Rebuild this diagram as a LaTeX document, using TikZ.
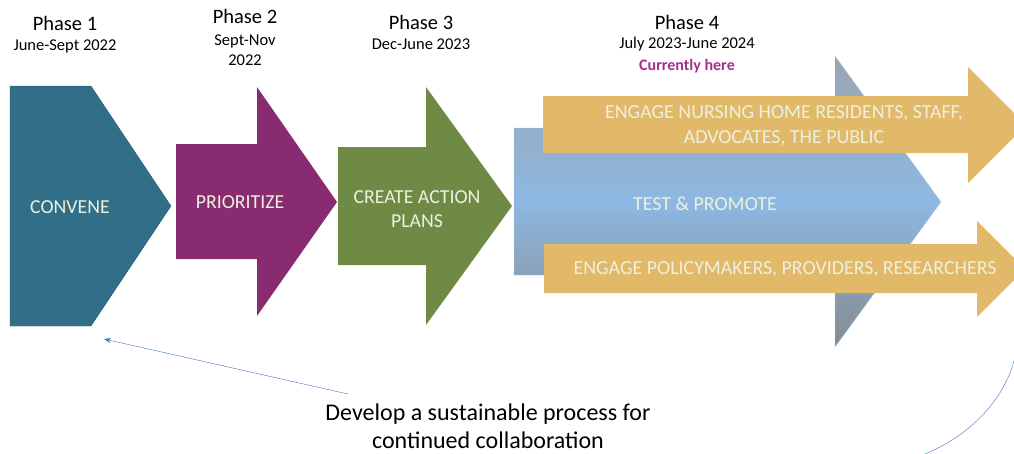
\documentclass[tikz,border=0pt]{standalone}
\usepackage{fontspec}
\setmainfont{Carlito}
\usetikzlibrary{arrows.meta}
\definecolor{convenecol}{HTML}{316F88}
\definecolor{conveneedge}{HTML}{1D5F76}
\definecolor{prioritycol}{HTML}{892B70}
\definecolor{plancol}{HTML}{6E8A45}
\definecolor{engagecol}{HTML}{E1B968}
\definecolor{testtop}{HTML}{9AA5B0}
\definecolor{testmid}{HTML}{8DB8E2}
\definecolor{testbot}{HTML}{868A8F}
\definecolor{labeltext}{HTML}{EEF0DE}
\definecolor{herecol}{HTML}{A2308A}
\definecolor{loopcol}{HTML}{4472C4}

\begin{document}
\begin{tikzpicture}[x=1pt,y=-1pt,
  phase/.style={font=\fontsize{20.5}{23}\selectfont,align=center},
  when/.style={font=\fontsize{16.5}{20}\selectfont,align=center},
  steplabel/.style={text=labeltext,font=\fontsize{19.8}{24}\selectfont,align=center},
  biglabel/.style={text=labeltext,font=\fontsize{19.9}{25}\selectfont,align=center}]
      \clip (0,0) rectangle (1014,453);
      \useasboundingbox (0,0) rectangle (1014,453);

      % phase headings
      \node[phase] (p1) at (65,23) {Phase 1};
      \node[when] (d1) at (65,46) {June-Sept 2022};
      \node[phase] (p2) at (245,16) {Phase 2};
      \node[when] (d2) at (245,50) {Sept-Nov\\2022};
      \node[phase] (p3) at (421,22) {Phase 3};
      \node[when] (d3) at (421,44) {Dec-June 2023};
      \node[phase] (p4) at (687,22) {Phase 4};
      \node[when] (d4) at (687,44) {July 2023-June 2024};
      \node[when,text=herecol,font=\fontsize{16}{20}\selectfont\bfseries] (here) at (687,66) {Currently here};

      % phase shapes
      \fill[convenecol,draw=conveneedge] (10,86) -- (91,86) -- (171,206) -- (91,326) -- (10,326) -- cycle;
      \fill[prioritycol] (176,144) -- (257,144) -- (257,87) -- (337,202) -- (257,316) -- (257,259) -- (176,259) -- cycle;
      \fill[plancol] (338,147) -- (426,147) -- (426,87) -- (512,206) -- (426,325) -- (426,265) -- (338,265) -- cycle;
      \shade[top color=testtop,bottom color=testbot,middle color=testmid,draw=testmid!70!white]
        (514,128) -- (835,128) -- (835,56) -- (941,202) -- (835,347) -- (835,275) -- (514,275) -- cycle;
      \fill[engagecol] (543,96) -- (968,96) -- (968,67) -- (1026,125) -- (968,183) -- (968,153) -- (543,153) -- cycle;
      \fill[engagecol] (544,244) -- (977,244) -- (977,221) -- (1025,269) -- (977,317) -- (977,293) -- (544,293) -- cycle;

      % labels
      \node[steplabel] (convene) at (70,207) {CONVENE};
      \node[steplabel] (prioritize) at (240,202) {PRIORITIZE};
      \node[steplabel] (plans) at (417,209) {CREATE ACTION\\PLANS};
      \node[biglabel] (residents) at (784,126) {ENGAGE NURSING HOME RESIDENTS, STAFF,\\ADVOCATES, THE PUBLIC};
      \node[biglabel] (test) at (705,204) {TEST \& PROMOTE};
      \node[biglabel] (policy) at (785,269) {ENGAGE POLICYMAKERS, PROVIDERS, RESEARCHERS};

      % collaboration loop
      \node[font=\fontsize{24}{28}\selectfont,align=center] (develop) at (488,426) {Develop a sustainable process for\\continued collaboration};
      \coordinate (loopstart) at (348,394);
      \coordinate (loopend) at (104,339);
      \coordinate (arcstart) at (1016,352);
      \coordinate (arcend) at (920,456);
      \draw[loopcol,thin,-{Stealth[length=7pt,width=5pt]}] (loopstart) -- (loopend);
      \draw[loopcol,thin] (arcstart) .. controls (1008,396) and (972,436) .. (arcend);
    \end{tikzpicture}
\end{document}
